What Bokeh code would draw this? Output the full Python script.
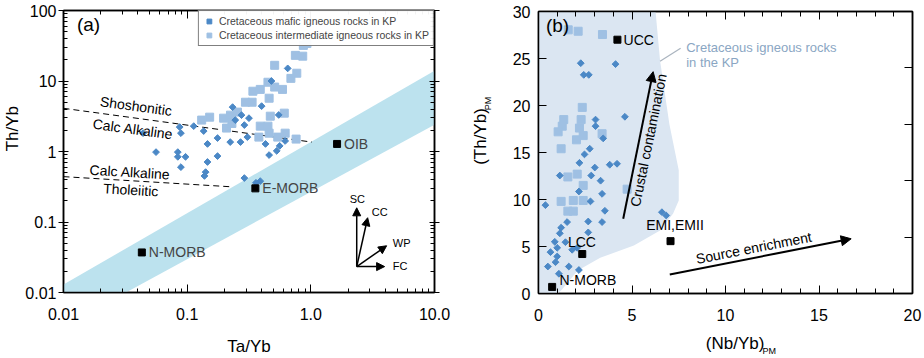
import math
from bokeh.plotting import figure
from bokeh.models import (LogAxis, LinearAxis, FixedTicker, Label, Arrow, NormalHead,
                          Legend, LegendItem, Range1d)
from bokeh.layouts import row, column
from bokeh.embed import file_html
from bokeh.resources import INLINE

FONT = "Liberation Sans"

# ---------------- Panel (a) data ----------------
mafic_ta = [0.044, 0.056, 0.087, 0.089, 0.084, 0.084, 0.097, 0.089, 0.113, 0.136, 0.146, 0.176,
            0.176, 0.146, 0.141, 0.138, 0.223, 0.233, 0.245, 0.275, 0.316, 0.29, 0.27, 0.307,
            0.40, 0.43, 0.46, 0.53, 0.56, 0.62, 0.65, 0.55, 0.29, 0.39, 0.36, 0.48]
mafic_th = [1.82, 0.98, 2.22, 1.82, 0.98, 0.84, 0.84, 0.60, 2.29, 1.95, 1.28, 1.55,
            0.86, 0.71, 0.51, 0.45, 1.36, 4.26, 2.79, 3.28, 2.97, 2.37, 1.36, 1.60,
            4.40, 1.28, 0.89, 1.02, 1.20, 1.41, 15.1, 3.3, 0.42, 0.38, 0.36, 10.0]
inter_ta = [0.131, 0.152, 0.197, 0.208, 0.224, 0.255, 0.296, 0.335, 0.34, 0.39, 0.45, 0.46,
            0.51, 0.59, 0.51, 0.69, 0.77, 0.75, 0.86, 0.87, 0.93, 0.47, 0.61, 0.39, 0.45,
            0.38, 0.46, 0.54, 0.62, 0.76, 0.23]
inter_th = [2.79, 3.07, 2.97, 2.15, 3.28, 3.62, 5.0, 5.0, 7.16, 7.6, 9.6, 5.7,
            8.2, 7.6, 16.7, 10.9, 12.9, 23.1, 22.5, 32.0, 34.0, 3.17, 3.5, 2.29, 2.29,
            1.6, 1.82, 1.6, 1.82, 1.50, 2.5]
ref_a_names = ["N-MORB", "E-MORB", "OIB"]
ref_a_ta = [0.043, 0.356, 1.63]
ref_a_th = [0.037, 0.30, 1.28]
# MORB-OIB array outline
band_x = [0.01, 10.0, 10.0, 0.032, 0.01]
band_y = [0.013, 14.0, 2.4, 0.01, 0.01]
# dashed discriminant lines
shosh_x = [0.01, 1.02]
shosh_y = [4.1, 1.36]
thol_x = [0.01, 0.233]
thol_y = [0.44, 0.315]
# vectors
vec_names = ["SC", "CC", "WP", "FC"]
vec_x0, vec_y0 = 2.35, 0.0233
vec_x1 = [2.35, 2.88, 4.1, 3.95]
vec_y1 = [0.159, 0.115, 0.046, 0.0233]

# ---------------- Panel (b) data ----------------
mafic_nb = [2.26, 4.12, 2.42, 2.69, 4.62, 3.05, 3.05, 3.46, 2.74, 2.46, 2.19, 3.01, 3.81, 4.2,
            1.14, 2.82, 3.32, 2.16, 3.4, 0.37, 2.78, 3.55, 3.4, 2.66, 1.53, 1.21, 2.66, 1.14,
            1.44, 0.87, 1.0, 0.64, 2.07, 1.8, 1.0, 0.91, 0.5, 1.62, 2.16, 1.09, 6.6, 6.83]
mafic_thpm = [24.5, 24.4, 23.26, 23.26, 18.8, 18.5, 17.8, 16.5, 15.4, 14.8, 13.9, 13.4, 13.7, 13.8,
              12.55, 12.55, 12.0, 10.85, 10.6, 9.4, 9.8, 8.8, 7.6, 7.66, 7.6, 7.0, 6.5, 6.4,
              5.46, 5.5, 4.86, 4.4, 4.86, 4.65, 3.94, 3.33, 2.87, 2.87, 2.5, 2.1, 8.65, 8.3]
inter_nb = [1.59, 2.12, 3.42, 2.34, 1.35, 2.28, 1.27, 2.19, 1.05, 2.39, 3.4, 2.03, 1.21,
            1.57, 2.07, 2.39, 1.21, 1.86, 2.39, 1.57, 1.86, 4.74]
inter_thpm = [28.05, 27.9, 27.55, 19.8, 18.5, 18.5, 17.8, 17.6, 17.2, 16.8, 17.0, 16.35, 15.4,
              12.4, 12.7, 11.5, 9.8, 9.9, 9.9, 8.76, 8.76, 11.1]
ref_b_names = ["UCC", "LCC", "N-MORB", "EMI,EMII"]
ref_b_nb = [4.22, 2.34, 0.73, 7.06]
ref_b_th = [27.0, 4.2, 0.7, 5.57]
env_x = [0.0, 6.26, 6.5, 7.0, 7.5, 7.5, 7.2, 6.5, 5.1, 3.3, 2.1, 1.2, 1.0, 0.0]
env_y = [30.0, 30.0, 24.8, 18.0, 13.1, 9.9, 8.5, 6.7, 5.1, 3.8, 2.45, 0.3, 0.0, 0.0]

C_MAFIC = "#4b88c6"
C_INTER = "#9fc0e3"
C_BAND = "#bce2ee"
C_ENV = "#dbe6f2"


def style_axis(ax, tin, tout, minor_in, labels=True):
    ax.axis_line_width = 1.5
    ax.axis_line_color = "black"
    ax.major_tick_in = tin
    ax.major_tick_out = tout
    ax.minor_tick_in = minor_in
    ax.minor_tick_out = 0
    ax.major_tick_line_color = "black"
    ax.minor_tick_line_color = "black"
    ax.major_label_text_font = FONT
    ax.major_label_text_font_size = "16px"
    ax.major_label_text_color = "black"
    ax.axis_label_text_font = FONT
    ax.axis_label_text_font_style = "normal"
    ax.axis_label_text_font_size = "17px"
    ax.axis_label_text_color = "black"
    if not labels:
        ax.major_label_text_font_size = "1px"
        ax.major_label_text_alpha = 0
        ax.major_label_standoff = 0


def txt(p, x, y, s, size="14px", units="data", angle=0.0, align="left", baseline="middle",
        color="black"):
    p.add_layout(Label(x=x, y=y, x_units=units, y_units=units, text=s, angle=angle,
                       text_font=FONT, text_font_size=size, text_align=align,
                       text_baseline=baseline, text_color=color))


def label_fig(w, h):
    f = figure(width=w, height=h, x_range=Range1d(0, w), y_range=Range1d(0, h),
               x_axis_location=None, y_axis_location=None, min_border=0,
               output_backend="svg", toolbar_location=None)
    f.grid.visible = False
    f.outline_line_color = None
    return f


# ================= Panel (a) =================
ylab_a = label_fig(22, 358)
txt(ylab_a, 11.5, 208, "Th/Yb", size="17px", angle=math.pi / 2, align="center")

pa = figure(width=438, height=358, x_axis_type="log", y_axis_type="log",
            x_range=Range1d(0.01, 10), y_range=Range1d(0.01, 100),
            output_backend="svg", toolbar_location=None,
            min_border_left=38, min_border_right=26, min_border_top=10, min_border_bottom=65)
pa.grid.visible = False
pa.outline_line_color = "black"
pa.outline_line_width = 1.5

x_major = [0.01, 0.1, 1.0, 10.0]
x_minor = [m * d for d in [0.01, 0.1, 1.0] for m in range(2, 10)]
y_major = [0.01, 0.1, 1.0, 10.0, 100.0]
y_minor = [m * d for d in [0.01, 0.1, 1.0, 10.0] for m in range(2, 10)]

xa = pa.xaxis[0]
xa.ticker = FixedTicker(ticks=x_major, minor_ticks=x_minor)
xa.major_label_overrides = {0.01: "0.01", 0.1: "0.1", 1: "1.0", 10: "10.0"}
xa.axis_label = "Ta/Yb"
style_axis(xa, 8, 0, 4)
xa.major_label_standoff = 15
xa.axis_label_standoff = 14
ya = pa.yaxis[0]
ya.ticker = FixedTicker(ticks=y_major, minor_ticks=y_minor)
ya.major_label_overrides = {0.01: "0.01", 0.1: "0.1", 1: "1", 10: "10", 100: "100"}
style_axis(ya, 5, 5, 4)
ya.major_label_standoff = 2

ta = LogAxis(ticker=FixedTicker(ticks=x_major, minor_ticks=x_minor))
style_axis(ta, 8, 0, 4, labels=False)
pa.add_layout(ta, "above")
ra = LogAxis(ticker=FixedTicker(ticks=y_major, minor_ticks=y_minor))
style_axis(ra, 5, 5, 4, labels=False)
pa.add_layout(ra, "right")

pa.patch(band_x, band_y, fill_color=C_BAND, line_color=None)

pa.line(shosh_x, shosh_y, line_color="black", line_dash="6 4", line_width=1)
pa.line(thol_x, thol_y, line_color="black", line_dash="6 4", line_width=1)

r_inter = pa.scatter(inter_ta, inter_th, marker="square", size=8, fill_color=C_INTER,
                     line_color=C_INTER)
r_mafic = pa.scatter(mafic_ta, mafic_th, marker="square", angle=math.pi / 4, size=4.8,
                     fill_color=C_MAFIC, line_color=C_MAFIC)
pa.scatter(ref_a_ta, ref_a_th, marker="square", size=7, fill_color="black", line_color="black")
for n, xv, yv in zip(ref_a_names, ref_a_ta, ref_a_th):
    pa.add_layout(Label(x=xv, y=yv, text=n, x_offset=7, text_font=FONT, text_font_size="14px",
                        text_baseline="middle", text_align="left"))

ang1 = -0.135
ang2 = -0.06
txt(pa, 0.0386, 4.4, "Shoshonitic", size="14px", angle=ang1, align="center")
txt(pa, 0.0365, 2.08, "Calc Alkaline", size="14px", angle=ang1, align="center")
txt(pa, 0.0345, 0.51, "Calc Alkaline", size="14px", angle=ang2, align="center")
txt(pa, 0.035, 0.286, "Tholeiitic", size="14px", angle=ang2, align="center")

for n, x1, y1 in zip(vec_names, vec_x1, vec_y1):
    pa.add_layout(Arrow(x_start=vec_x0, y_start=vec_y0, x_end=x1, y_end=y1, line_width=1.5,
                        end=NormalHead(size=8, fill_color="black", line_color="black")))
txt(pa, 2.38, 0.215, "SC", size="11px", align="center")
txt(pa, 3.6, 0.14, "CC", size="11px", align="center")
txt(pa, 4.6, 0.05, "WP", size="11px", align="left")
txt(pa, 4.6, 0.024, "FC", size="11px", align="left")

legend = Legend(items=[LegendItem(label="Cretaceous mafic igneous rocks in KP", renderers=[r_mafic]),
                       LegendItem(label="Cretaceous intermediate igneous rocks in KP", renderers=[r_inter])],
                location="top_right")
legend.label_text_font = FONT
legend.label_text_font_size = "10.5px"
legend.border_line_color = "black"
legend.border_line_width = 1
legend.margin = 0
legend.padding = 4
legend.spacing = 2
legend.glyph_height = 12
legend.glyph_width = 12
legend.label_height = 12
legend.label_standoff = 4
pa.add_layout(legend)

txt(pa, 25, 268, "(a)", size="19px", units="screen", align="center")

# ================= Panel (b) =================
ylab_b = label_fig(36, 358)
txt(ylab_b, 20, 198, "(Th/Yb)", size="17px", angle=math.pi / 2, align="center")
txt(ylab_b, 27, 240, "PM", size="9px", angle=math.pi / 2, align="center")

pb = figure(width=428, height=328, x_range=Range1d(0, 20), y_range=Range1d(0, 30),
            output_backend="svg", toolbar_location=None,
            min_border_left=42, min_border_right=12, min_border_top=11, min_border_bottom=35)
pb.grid.visible = False
pb.outline_line_color = "black"
pb.outline_line_width = 1.5

bx_major = [0, 5, 10, 15, 20]
bx_minor = [v for v in range(0, 21) if v % 5]
xb = pb.xaxis[0]
xb.ticker = FixedTicker(ticks=bx_major, minor_ticks=bx_minor)
style_axis(xb, 8, 0, 5)
xb.major_label_standoff = 15
yb = pb.yaxis[0]
yb.ticker = FixedTicker(ticks=[0, 5, 10, 15, 20, 25, 30])
style_axis(yb, 8, 0, 0)
yb.major_label_standoff = 8
tb = LinearAxis(ticker=FixedTicker(ticks=bx_major, minor_ticks=bx_minor))
style_axis(tb, 8, 0, 5, labels=False)
pb.add_layout(tb, "above")
rb = LinearAxis(ticker=FixedTicker(ticks=[0, 6, 12, 18, 24, 30]))
style_axis(rb, 8, 0, 0, labels=False)
pb.add_layout(rb, "right")

pb.patch(env_x, env_y, fill_color=C_ENV, line_color=None)
pb.scatter(inter_nb, inter_thpm, marker="square", size=8, fill_color=C_INTER, line_color=C_INTER)
pb.scatter(mafic_nb, mafic_thpm, marker="square", angle=math.pi / 4, size=4.8,
           fill_color=C_MAFIC, line_color=C_MAFIC)
pb.scatter(ref_b_nb, ref_b_th, marker="square", size=7, fill_color="black", line_color="black")

txt(pb, 4.55, 27.0, "UCC", size="14px")
txt(pb, 2.32, 5.5, "LCC", size="14px", align="center")
txt(pb, 1.12, 1.45, "N-MORB", size="14px", align="left")
txt(pb, 7.3, 7.3, "EMI,EMII", size="14px", align="center")

pb.add_layout(Arrow(x_start=4.53, y_start=7.95, x_end=6.13, y_end=23.6, line_width=2,
                    end=NormalHead(size=10, fill_color="black", line_color="black")))
pb.add_layout(Arrow(x_start=7.02, y_start=2.02, x_end=16.72, y_end=5.82, line_width=2,
                    end=NormalHead(size=10, fill_color="black", line_color="black")))
txt(pb, 5.88, 16.3, "Crustal contamination", size="14px", angle=math.radians(78.5), align="center")
txt(pb, 11.51, 4.86, "Source enrichment", size="14px", angle=math.radians(11.1), align="center")

pb.segment(x0=[6.5], y0=[24.7], x1=[7.6], y1=[26.1], line_color="#aab4bf", line_width=1.2)
txt(pb, 7.9, 26.2, "Cretaceous igneous rocks", size="13px", color="#8aa6c3")
txt(pb, 7.9, 24.6, "in the KP", size="13px", color="#8aa6c3")

txt(pb, 19, 268, "(b)", size="19px", units="screen", align="center")

xlab_b = label_fig(428, 30)
txt(xlab_b, 225, 15, "(Nb/Yb)", size="17px", align="center")
txt(xlab_b, 264, 8, "PM", size="9px", align="center")

layout = row(ylab_a, pa, ylab_b, column(pb, xlab_b))
open("out.html", "w").write(file_html(layout, INLINE))
